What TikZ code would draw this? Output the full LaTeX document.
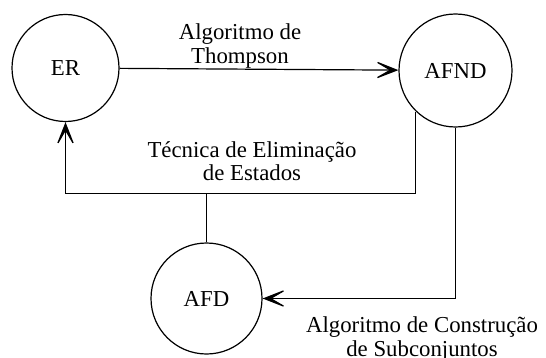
\documentclass[tikz,border=0pt]{standalone}
\usepackage{fontspec}
\setmainfont{Liberation Serif}
\usetikzlibrary{arrows.meta}

\begin{document}
\begin{tikzpicture}[x=0.5pt,y=-0.5pt,
	every node/.style={font=\fontsize{11.4}{11.7}\selectfont},
	state/.style={draw,circle,line width=0.6pt,inner sep=0pt},
	conn/.style={line width=0.6pt},
	tip/.style={-{Stealth[length=14pt,width=11pt,inset=9.5pt]}},
	lbl/.style={align=center,inner sep=0pt}]
	\useasboundingbox (0,0) rectangle (546,358);
 	\node [state,minimum size=53.5pt] (er) at (65.5,68) {ER};
	\node [state,minimum size=56.5pt] (afnd) at (455.5,70.5) {AFND};
	\node [state,minimum size=55.5pt] (afd) at (206.5,298.5) {AFD};
	\coordinate (split) at (206.5,193.5);
	\draw [conn,tip] (er) -- (afnd);
	\draw [conn,tip] (afnd.226.5) |- (split) -| (er.south);
	\draw [conn] (afd.north) -- (split);
	\draw [conn,tip] (afnd.south) |- (afd.east);
	\node [lbl] (thompson) at (240,46) {Algoritmo de\\Thompson};
	\node [lbl] (elim) at (252,161) {Técnica de Eliminação\\de Estados};
	\node [lbl] (subconj) at (422,339) {Algoritmo de Construção\\de Subconjuntos};
\end{tikzpicture}
\end{document}
